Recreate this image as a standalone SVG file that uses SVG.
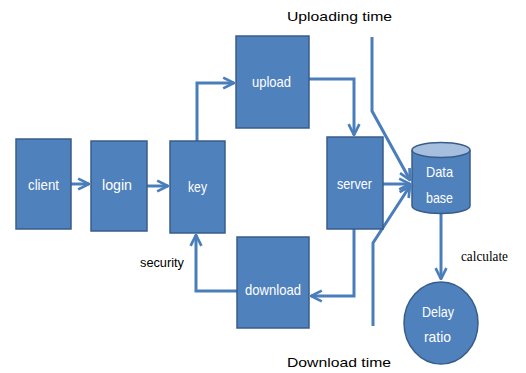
<svg xmlns="http://www.w3.org/2000/svg" width="526" height="373" viewBox="0 0 526 373">
<defs>
<marker id="ah" viewBox="0 0 10 10" refX="9" refY="5" markerWidth="4.5" markerHeight="4.5" orient="auto" markerUnits="strokeWidth">
<path d="M1,1 L9,5 L1,9" fill="none" stroke="#4A7EBB" stroke-width="2"/>
</marker>
<style>
.box{fill:#4F81BD;stroke:#385D8A;stroke-width:1.5}
.lbl{font-family:"Liberation Sans",Arial,sans-serif;font-size:15px;fill:#fff}
.cap{font-family:"Liberation Sans",Arial,sans-serif;font-size:13px;fill:#000}
.ln{fill:none;stroke:#4A7EBB;stroke-width:3}
</style>
</defs>
<rect width="526" height="373" fill="#fff"/>
<g id="connectors">
<path class="ln" d="M71,184 H89" marker-end="url(#ah)"/>
<path class="ln" d="M147,186 H168" marker-end="url(#ah)"/>
<path class="ln" d="M197,141 V83 H234" marker-end="url(#ah)"/>
<path class="ln" d="M309,79 H354 V135" marker-end="url(#ah)"/>
<path class="ln" d="M354,229 V296 H311" marker-end="url(#ah)"/>
<path class="ln" d="M237,291 H196 V235" marker-end="url(#ah)"/>
<path class="ln" d="M383,184 H410" marker-end="url(#ah)"/>
<path class="ln" d="M372,37 V111 L410,180" marker-end="url(#ah)"/>
<path class="ln" d="M373,326 V243 L410,186" marker-end="url(#ah)"/>
<path class="ln" d="M441,214 V279" marker-end="url(#ah)"/>
</g>
<g id="client"><rect class="box" x="16" y="139" width="55" height="90"/><text class="lbl" x="28" y="190" textLength="31" lengthAdjust="spacingAndGlyphs">client</text></g>
<g id="login"><rect class="box" x="91" y="141" width="56" height="90"/><text class="lbl" x="102" y="190" textLength="30" lengthAdjust="spacingAndGlyphs">login</text></g>
<g id="key"><rect class="box" x="170" y="141" width="55" height="92"/><text class="lbl" x="188" y="192" textLength="19" lengthAdjust="spacingAndGlyphs">key</text></g>
<g id="upload"><rect class="box" x="236" y="36" width="73" height="92"/><text class="lbl" x="252" y="87" textLength="39" lengthAdjust="spacingAndGlyphs">upload</text></g>
<g id="download"><rect class="box" x="237" y="237" width="72" height="91"/><text class="lbl" x="245" y="295" textLength="56" lengthAdjust="spacingAndGlyphs">download</text></g>
<g id="server"><rect class="box" x="327" y="137" width="56" height="92"/><text class="lbl" x="337" y="189" textLength="35" lengthAdjust="spacingAndGlyphs">server</text></g>
<g id="database">
<path class="box" d="M412,150 V206 A29,7.5 0 0 0 470,206 V150"/>
<ellipse cx="441" cy="150" rx="29" ry="7.5" fill="#A7BFDE" stroke="#385D8A" stroke-width="1.5"/>
<text class="lbl" x="426" y="177" textLength="27" lengthAdjust="spacingAndGlyphs">Data</text>
<text class="lbl" x="426" y="203" textLength="27" lengthAdjust="spacingAndGlyphs">base</text>
</g>
<g id="delay-ratio">
<ellipse class="box" cx="441" cy="323" rx="37" ry="41"/>
<text class="lbl" x="422" y="317" textLength="32" lengthAdjust="spacingAndGlyphs">Delay</text>
<text class="lbl" x="424" y="342" textLength="27" lengthAdjust="spacingAndGlyphs">ratio</text>
</g>
<g id="labels">
<text class="cap" x="287" y="21" textLength="105" lengthAdjust="spacingAndGlyphs" font-size="15">Uploading time</text>
<text class="cap" x="287" y="367" textLength="104" lengthAdjust="spacingAndGlyphs" font-size="15">Download time</text>
<text class="cap" x="140" y="267" textLength="44" lengthAdjust="spacingAndGlyphs" font-size="14">security</text>
<text x="461" y="261" font-family="'Liberation Serif','Times New Roman',serif" font-size="15" fill="#000" textLength="47" lengthAdjust="spacingAndGlyphs">calculate</text>
</g>
</svg>
